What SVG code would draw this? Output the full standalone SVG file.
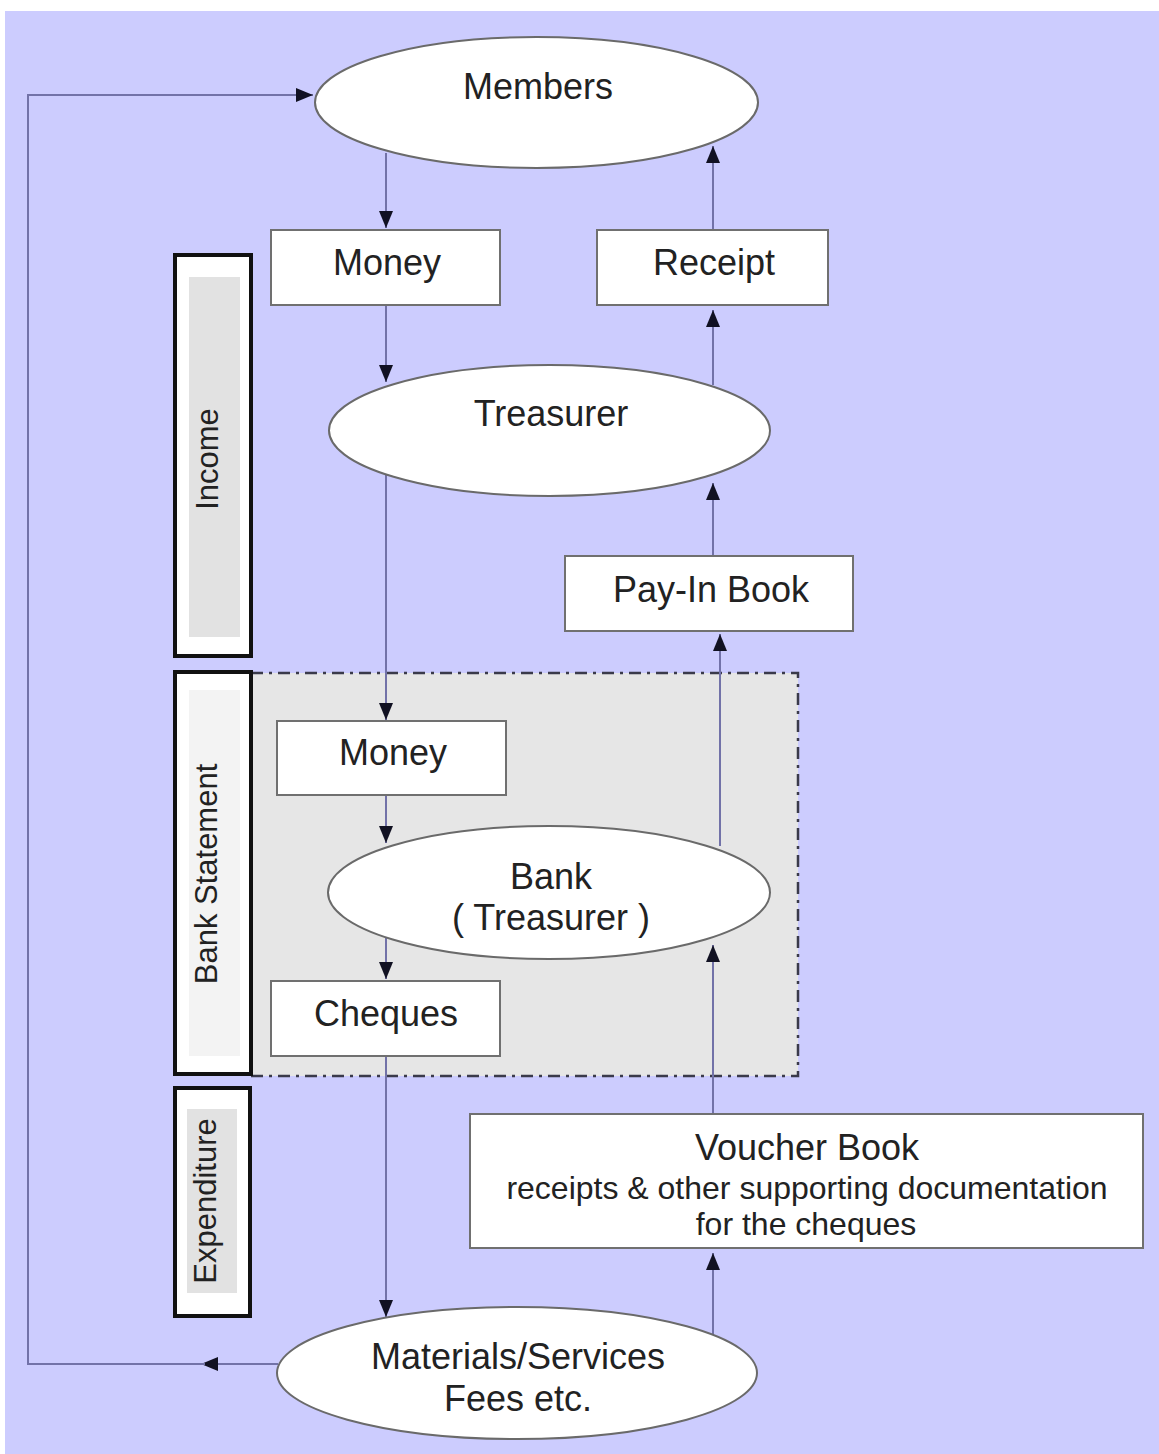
<svg xmlns="http://www.w3.org/2000/svg" width="1159" height="1454" viewBox="0 0 1159 1454">
<style>
  .lbl{font-family:"Liberation Sans",Arial,sans-serif;font-size:36px;fill:#222;text-anchor:middle}
  .sm{font-size:32px}
  .side{font-family:"Liberation Sans",Arial,sans-serif;font-size:31px;fill:#222;text-anchor:middle}
  .box{fill:#fff;stroke:#707070;stroke-width:2}
  .ell{fill:#fff;stroke:#6a6a6a;stroke-width:2}
  .bar{fill:#fff;stroke:#111;stroke-width:4}
  .con{fill:none;stroke:#7272a8;stroke-width:2}
</style>
<defs>
  <marker id="ah" markerUnits="userSpaceOnUse" markerWidth="18" markerHeight="14" refX="17" refY="7" orient="auto">
    <path d="M0,0 L17,7 L0,14 z" fill="#111122"/>
  </marker>
</defs>
<rect x="0" y="0" width="1159" height="1454" fill="#fff"/>
<rect x="5" y="11" width="1154" height="1443" fill="#ccccfe"/>

<g id="bank-region">
  <rect x="251" y="673" width="547" height="403" fill="#e6e6e6" stroke="#3a3a4a" stroke-width="2.5" stroke-dasharray="12,6,3,6"/>
</g>

<g id="income-bar">
  <rect class="bar" x="175" y="255" width="76" height="401"/>
  <rect x="189" y="277" width="51" height="360" fill="#e2e2e2"/>
  <text class="side" transform="translate(218,459) rotate(-90)">Income</text>
</g>
<g id="bank-statement-bar">
  <rect class="bar" x="175" y="672" width="76" height="402"/>
  <rect x="189" y="690" width="51" height="366" fill="#f3f3f3"/>
  <text class="side" transform="translate(217,874) rotate(-90)">Bank Statement</text>
</g>
<g id="expenditure-bar">
  <rect class="bar" x="175" y="1088" width="75" height="228"/>
  <rect x="187" y="1109" width="50" height="184" fill="#e2e2e2"/>
  <text class="side" transform="translate(216,1201) rotate(-90)">Expenditure</text>
</g>

<g id="connectors">
  <path class="con" d="M386,153 L386,228" marker-end="url(#ah)"/>
  <path class="con" d="M386,305 L386,382" marker-end="url(#ah)"/>
  <path class="con" d="M386,474 L386,720" marker-end="url(#ah)"/>
  <path class="con" d="M386,795 L386,843" marker-end="url(#ah)"/>
  <path class="con" d="M386,937 L386,979" marker-end="url(#ah)"/>
  <path class="con" d="M386,1056 L386,1317" marker-end="url(#ah)"/>
  <path class="con" d="M713,1335 L713,1253" marker-end="url(#ah)"/>
  <path class="con" d="M713,1114 L713,945" marker-end="url(#ah)"/>
  <path class="con" d="M720,846 L720,634" marker-end="url(#ah)"/>
  <path class="con" d="M713,556 L713,483" marker-end="url(#ah)"/>
  <path class="con" d="M713,385 L713,310" marker-end="url(#ah)"/>
  <path class="con" d="M713,230 L713,146" marker-end="url(#ah)"/>
  <path class="con" d="M278,1364 L201,1364" marker-end="url(#ah)"/>
  <path class="con" d="M205,1364 L28,1364 L28,95 L313,95" marker-end="url(#ah)"/>
</g>

<g id="members">
  <ellipse class="ell" cx="536.5" cy="102.5" rx="221.5" ry="65.5"/>
  <text class="lbl" x="538" y="99">Members</text>
</g>
<g id="money-1">
  <rect class="box" x="271" y="230" width="229" height="75"/>
  <text class="lbl" x="387" y="275">Money</text>
</g>
<g id="receipt">
  <rect class="box" x="597" y="230" width="231" height="75"/>
  <text class="lbl" x="714" y="275">Receipt</text>
</g>
<g id="treasurer">
  <ellipse class="ell" cx="549.5" cy="430.5" rx="220.5" ry="65.5"/>
  <text class="lbl" x="551" y="426">Treasurer</text>
</g>
<g id="pay-in-book">
  <rect class="box" x="565" y="556" width="288" height="75"/>
  <text class="lbl" x="711" y="602">Pay-In Book</text>
</g>
<g id="money-2">
  <rect class="box" x="277" y="721" width="229" height="74"/>
  <text class="lbl" x="393" y="765">Money</text>
</g>
<g id="bank">
  <ellipse class="ell" cx="549" cy="892.5" rx="221" ry="66.5"/>
  <text class="lbl" x="551" y="889">Bank</text>
  <text class="lbl" x="551" y="930">( Treasurer )</text>
</g>
<g id="cheques">
  <rect class="box" x="271" y="981" width="229" height="75"/>
  <text class="lbl" x="386" y="1026">Cheques</text>
</g>
<g id="voucher-book">
  <rect class="box" x="470" y="1114" width="673" height="134"/>
  <text class="lbl" x="807" y="1160">Voucher Book</text>
  <text class="lbl sm" x="807" y="1199">receipts &amp; other supporting documentation</text>
  <text class="lbl sm" x="806" y="1235">for the cheques</text>
</g>
<g id="materials">
  <ellipse class="ell" cx="517" cy="1373" rx="240" ry="66"/>
  <text class="lbl" x="518" y="1369">Materials/Services</text>
  <text class="lbl" x="518" y="1411">Fees etc.</text>
</g>
</svg>
